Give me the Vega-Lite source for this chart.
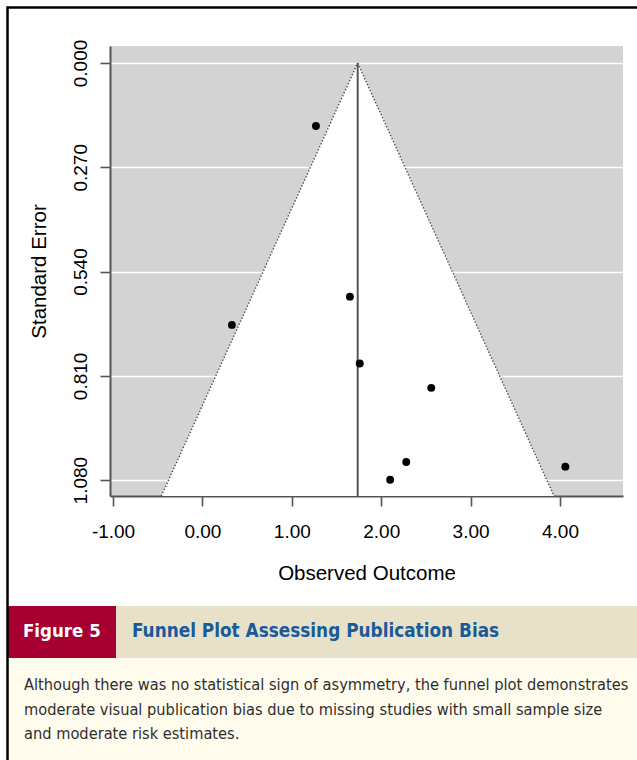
{
  "$schema": "https://vega.github.io/schema/vega-lite/v6.json",
  "width": 513,
  "height": 450,
  "autosize": {"type": "none"},
  "padding": {"left": 110, "top": 46, "right": 14, "bottom": 264},
  "background": "white",
  "config": {
    "view": {"fill": "#d3d3d3", "stroke": null},
    "font": "Liberation Sans",
    "axis": {"labelFont": "Liberation Sans", "titleFont": "Liberation Sans"}
  },
  "datasets": {
    "studies": [
      {"yi": 1.27, "sei": 0.163},
      {"yi": 1.65, "sei": 0.605},
      {"yi": 0.33, "sei": 0.678},
      {"yi": 1.76, "sei": 0.778},
      {"yi": 2.56, "sei": 0.841},
      {"yi": 2.28, "sei": 1.033},
      {"yi": 2.10, "sei": 1.079},
      {"yi": 4.06, "sei": 1.045}
    ],
    "funnel": [
      {"sei": 0, "lo": 1.737, "hi": 1.737},
      {"sei": 1.121, "lo": -0.46, "hi": 3.934}
    ],
    "estimate": [
      {"est": 1.737, "top": 0, "bottom": 1.121}
    ],
    "caption": [
      {"part": "label", "text": "Figure 5"},
      {"part": "title", "text": "Funnel Plot Assessing Publication Bias"},
      {"part": "body", "text": [
        "Although there was no statistical sign of asymmetry, the funnel plot demonstrates",
        "moderate visual publication bias due to missing studies with small sample size",
        "and moderate risk estimates."
      ]}
    ]
  },
  "layer": [
    {
      "layer": [
        {
          "data": {"name": "funnel"},
          "mark": {"type": "area", "orient": "horizontal", "color": "white", "opacity": 1},
          "encoding": {
            "y": {
              "field": "sei", "type": "quantitative", "title": "Standard Error",
              "scale": {"domain": [-0.044, 1.121], "reverse": true, "nice": false, "zero": false},
              "axis": {
                "values": [0, 0.27, 0.54, 0.81, 1.08], "format": ".3f",
                "labelAngle": -90, "labelAlign": "center", "labelBaseline": "alphabetic",
                "labelFontSize": 19, "labelColor": "black", "labelPadding": 14,
                "labelFlush": false, "labelOverlap": false,
                "tickSize": 10, "tickColor": "#555555", "tickWidth": 1.6,
                "domainColor": "#555555", "domainWidth": 2,
                "grid": true, "gridColor": "white", "gridWidth": 1.6, "gridOpacity": 1,
                "titleFontSize": 20.5, "titleFontWeight": "normal", "titleColor": "black", "titlePadding": 22
              }
            },
            "x": {
              "field": "lo", "type": "quantitative", "title": "Observed Outcome",
              "scale": {"domain": [-1.034, 4.705], "nice": false, "zero": false},
              "axis": {
                "values": [-1, 0, 1, 2, 3, 4],
                "labelExpr": "datum.value < 0 ? '-' + format(-datum.value, '.2f') : format(datum.value, '.2f')",
                "labelFontSize": 19, "labelColor": "black", "labelPadding": 16,
                "labelFlush": false, "labelOverlap": false,
                "tickSize": 10, "tickColor": "#555555", "tickWidth": 1.6,
                "domainColor": "#555555", "domainWidth": 2, "grid": false,
                "titleFontSize": 20.5, "titleFontWeight": "normal", "titleColor": "black", "titlePadding": 22
              }
            },
            "x2": {"field": "hi"}
          }
        },
        {
          "data": {"name": "funnel"},
          "mark": {"type": "line", "color": "#444444", "strokeWidth": 1.4, "strokeDash": [1.3, 2]},
          "encoding": {
            "x": {"field": "lo", "type": "quantitative", "title": "Observed Outcome"},
            "y": {"field": "sei", "type": "quantitative", "title": "Standard Error"}
          }
        },
        {
          "data": {"name": "funnel"},
          "mark": {"type": "line", "color": "#444444", "strokeWidth": 1.4, "strokeDash": [1.3, 2]},
          "encoding": {
            "x": {"field": "hi", "type": "quantitative", "title": "Observed Outcome"},
            "y": {"field": "sei", "type": "quantitative", "title": "Standard Error"}
          }
        },
        {
          "data": {"name": "estimate"},
          "mark": {"type": "rule", "color": "#555555", "strokeWidth": 2},
          "encoding": {
            "x": {"field": "est", "type": "quantitative", "title": "Observed Outcome"},
            "y": {"field": "top", "type": "quantitative", "title": "Standard Error"},
            "y2": {"field": "bottom"}
          }
        },
        {
          "data": {"name": "studies"},
          "mark": {"type": "circle", "color": "black", "opacity": 1, "size": 62},
          "encoding": {
            "x": {"field": "yi", "type": "quantitative", "title": "Observed Outcome"},
            "y": {"field": "sei", "type": "quantitative", "title": "Standard Error"}
          }
        }
      ]
    },
    {
      "layer": [
        {
          "data": {"values": [{"part": "band"}]},
          "mark": {"type": "rect", "fill": "#e8e1c9"},
          "encoding": {
            "x": {"datum": 0.0118, "type": "quantitative", "scale": {"domain": [0, 1], "range": [-110, 527], "nice": false, "zero": false}, "axis": null},
            "x2": {"datum": 1.02},
            "y": {"datum": 0.7974, "type": "quantitative", "scale": {"domain": [0, 1], "range": [-46, 714], "nice": false, "zero": false}, "axis": null},
            "y2": {"datum": 0.8658}
          }
        },
        {
          "data": {"values": [{"part": "label box"}]},
          "mark": {"type": "rect", "fill": "#a60032"},
          "encoding": {
            "x": {"datum": 0.0118, "type": "quantitative"},
            "x2": {"datum": 0.1821},
            "y": {"datum": 0.7974, "type": "quantitative"},
            "y2": {"datum": 0.8658}
          }
        },
        {
          "data": {"values": [{"part": "body box"}]},
          "mark": {"type": "rect", "fill": "#fffcee"},
          "encoding": {
            "x": {"datum": 0.0118, "type": "quantitative"},
            "x2": {"datum": 1.02},
            "y": {"datum": 0.8658, "type": "quantitative"},
            "y2": {"datum": 1.02}
          }
        },
        {
          "data": {"name": "caption"},
          "transform": [{"filter": "datum.part === 'label'"}],
          "mark": {"type": "text", "align": "left", "baseline": "alphabetic", "font": "DejaVu Sans Condensed, sans-serif", "fontWeight": "bold", "fontSize": 18.5, "color": "white"},
          "encoding": {
            "x": {"datum": 0.0361, "type": "quantitative"},
            "y": {"datum": 0.8382, "type": "quantitative"},
            "text": {"field": "text"}
          }
        },
        {
          "data": {"name": "caption"},
          "transform": [{"filter": "datum.part === 'title'"}],
          "mark": {"type": "text", "align": "left", "baseline": "alphabetic", "font": "DejaVu Sans Condensed, sans-serif", "fontWeight": "bold", "fontSize": 18.8, "color": "#1a5a9a"},
          "encoding": {
            "x": {"datum": 0.2072, "type": "quantitative"},
            "y": {"datum": 0.8382, "type": "quantitative"},
            "text": {"field": "text"}
          }
        },
        {
          "data": {"name": "caption"},
          "transform": [{"filter": "datum.part === 'body'"}],
          "mark": {"type": "text", "align": "left", "baseline": "alphabetic", "font": "DejaVu Sans Condensed, sans-serif", "fontSize": 16.25, "lineHeight": 24.5, "color": "#2e2e2e"},
          "encoding": {
            "x": {"datum": 0.0377, "type": "quantitative"},
            "y": {"datum": 0.9079, "type": "quantitative"},
            "text": {"field": "text"}
          }
        },
        {
          "data": {"values": [{"part": "frame"}]},
          "mark": {"type": "rect", "fill": "transparent", "stroke": "black", "strokeWidth": 2.5},
          "encoding": {
            "x": {"datum": 0.0118, "type": "quantitative"},
            "x2": {"datum": 1.02},
            "y": {"datum": 0.0099, "type": "quantitative"},
            "y2": {"datum": 1.02}
          }
        }
      ]
    }
  ],
  "resolve": {"scale": {"x": "independent", "y": "independent"}}
}
